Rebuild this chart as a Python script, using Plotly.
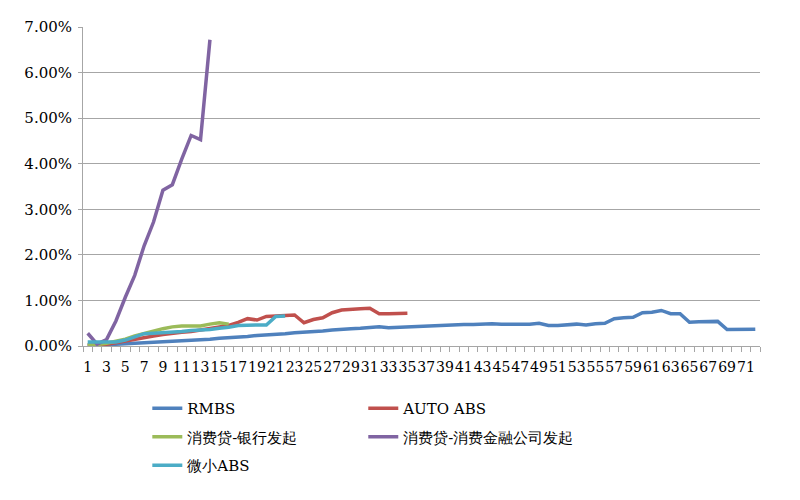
import plotly.graph_objects as go

periods = list(range(1, 73))
tick_labels = [str(i) for i in range(1, 72, 2)]

rmbs = [0.02, 0.02, 0.03, 0.04, 0.05, 0.06, 0.07, 0.08, 0.09, 0.10,
        0.11, 0.12, 0.14, 0.15, 0.17, 0.18, 0.20, 0.21, 0.23, 0.24,
        0.26, 0.27, 0.29, 0.30, 0.32, 0.33, 0.35, 0.37, 0.38, 0.39,
        0.40, 0.42, 0.40, 0.41, 0.42, 0.43, 0.44, 0.45, 0.46, 0.46,
        0.47, 0.47, 0.48, 0.49, 0.48, 0.48, 0.47, 0.48, 0.50, 0.45,
        0.45, 0.46, 0.48, 0.46, 0.49, 0.50, 0.60, 0.62, 0.63, 0.73,
        0.74, 0.78, 0.71, 0.71, 0.52, 0.53, 0.54, 0.54, 0.36, 0.36,
        0.36, 0.37]

auto_abs = [0.01, 0.02, 0.04, 0.07, 0.11, 0.15, 0.19, 0.22, 0.25, 0.28,
            0.30, 0.32, 0.35, 0.38, 0.41, 0.45, 0.52, 0.60, 0.57, 0.65,
            0.66, 0.67, 0.68, 0.51, 0.58, 0.62, 0.73, 0.79, 0.81, 0.82,
            0.83, 0.71, 0.71, 0.72, 0.72]

bank_consumer = [0.02, 0.03, 0.06, 0.10, 0.15, 0.22, 0.28, 0.34, 0.38, 0.42,
                 0.44, 0.44, 0.44, 0.48, 0.51, 0.48]

finco_consumer = [0.28, 0.04, 0.14, 0.55, 1.07, 1.55, 2.20, 2.72, 3.42, 3.54,
                  4.10, 4.62, 4.53, 6.72]

micro_abs = [0.09, 0.09, 0.09, 0.09, 0.13, 0.19, 0.27, 0.28, 0.29, 0.31,
             0.32, 0.34, 0.35, 0.36, 0.39, 0.41, 0.45, 0.46, 0.46, 0.46,
             0.65, 0.66]

series = [
    ("RMBS", rmbs, "#4F81BD", "legend", "g1"),
    ("AUTO ABS", auto_abs, "#C0504D", "legend2", "g2"),
    ("消费贷-银行发起", bank_consumer, "#9BBB59", "legend", "g3"),
    ("消费贷-消费金融公司发起", finco_consumer, "#8064A2", "legend2", "g4"),
    ("微小ABS", micro_abs, "#4BACC6", "legend", "g5"),
]

FONT = "DejaVu Serif, Liberation Serif, serif"

fig = go.Figure()
for name, vals, color, leg, grp in series:
    fig.add_trace(go.Scatter(
        x=periods[:len(vals)], y=vals, name=name, mode="lines",
        line=dict(color=color, width=3.5),
        legend=leg, legendgroup=grp,
    ))

legend_common = dict(
    font=dict(family=FONT, size=15, color="black"),
    bgcolor="rgba(0,0,0,0)", borderwidth=0,
    orientation="v", tracegroupgap=6,
    xanchor="left", yanchor="top", itemwidth=30,
)

fig.update_layout(
    width=800, height=500,
    margin=dict(l=75, r=48, t=19, b=162, autoexpand=False),
    paper_bgcolor="white", plot_bgcolor="white",
    font=dict(family=FONT, size=15, color="black"),
    legend=dict(x=0.095, y=-0.144, **legend_common),
    legend2=dict(x=0.414, y=-0.144, **legend_common),
    xaxis=dict(
        range=[0.5, 72.5],
        tickmode="array",
        tickvals=list(range(1, 72, 2)),
        ticktext=tick_labels,
        tickangle=0,
        ticks="",
        showgrid=False,
        automargin=False,
        ticklabelstandoff=8,
        showline=True, linecolor="#a6a6a6", linewidth=1,
        tickfont=dict(family=FONT, size=14, color="black"),
        minor=dict(ticks="outside", tick0=0.5, dtick=1, ticklen=5,
                   tickcolor="#a6a6a6", showgrid=False),
        zeroline=False,
    ),
    yaxis=dict(
        range=[0, 7],
        dtick=1,
        tickformat=".2f",
        ticksuffix="%",
        automargin=False,
        ticklabelstandoff=3,
        showgrid=True, gridcolor="#a6a6a6", gridwidth=1,
        showline=True, linecolor="#a6a6a6", linewidth=1,
        ticks="outside", ticklen=4, tickcolor="#a6a6a6",
        tickfont=dict(family=FONT, size=15, color="black"),
        zeroline=False,
    ),
)

fig.write_html("out.html")
